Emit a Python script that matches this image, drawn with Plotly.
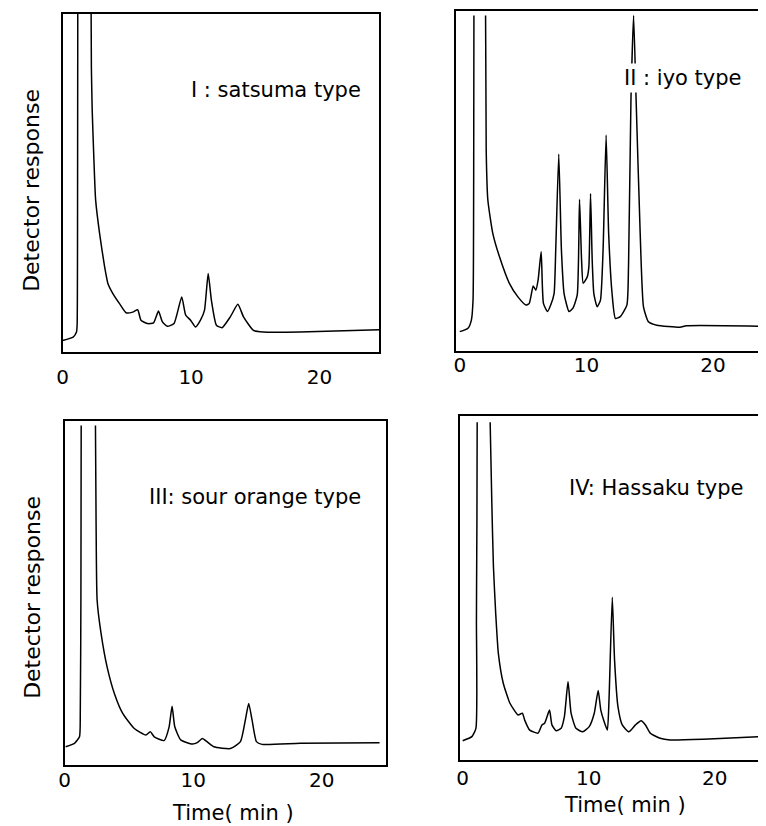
import plotly.graph_objects as go

# Chromatograms: time (min) and detector response (0-100 = panel height)
# None breaks the line where the solvent peak leaves the top of the panel
t_satsuma = [0, 0.82, 1.08, 1.13, 1.16, 1.18, None, 2.22, 2.24, 2.3, 2.37, 2.57, 2.88, 3.27, 3.53,
             3.91, 4.43, 4.94, 5.46, 5.84, 6.10, 6.62, 7.08, 7.46, 7.77, 8.16, 8.67, 9.27, 9.58,
             9.96, 10.35, 10.73, 11.04, 11.33, 11.58, 11.97, 12.41, 13.05, 13.64, 14.08, 14.85,
             15.62, 18.46, 24.63]
r_satsuma = [3.4, 4.4, 5.9, 8, 30, 100, None, 100, 84, 72, 64, 45, 35, 25.2, 20.2,
             17.3, 14.3, 11.6, 11.8, 12.5, 9.4, 8.4, 8.6, 12.1, 8.9, 7.6, 8.4, 16.3, 10.9,
             9.4, 7.4, 9.4, 12.3, 23.2, 15.3, 7.9, 7.2, 10.4, 14.1, 10.4, 6.4,
             5.9, 5.9, 6.6]

t_iyo = [0, 0.65, 0.92, 1.05, 1.1, 1.12, None, 2.04, 2.09, 2.22, 2.61, 3.14, 3.92, 4.58, 5.23,
         5.49, 5.80, 6.01, 6.19, 6.43, 6.61, 6.93, 7.19, 7.45, 7.58, 7.82, 8.03, 8.24, 8.63,
         8.94, 9.28, 9.46, 9.62, 9.75, 10.07, 10.2, 10.33, 10.46, 10.59, 10.85, 11.11, 11.32,
         11.56, 11.76, 12.03, 12.29, 12.68, 13.2, 13.33, 13.52, 13.73, 13.93, 14.25, 14.51,
         14.9, 15.56, 17.39, 17.9, 23.87]
r_iyo = [5.7, 6.7, 9.1, 15, 50, 98.7, None, 98.7, 59, 44.4, 34.6, 27.7, 19.9, 16.0, 13.5,
         14.0, 19.1, 17.9, 20.9, 29.2, 14.0, 11.6, 13.6, 16.9, 29.7, 57.9, 29.7, 16.9, 11.6,
         12.6, 16.5, 44.6, 26.8, 19.9, 21.8, 24.9, 46.3, 26.8, 16.9, 13.0, 14.9, 29.7,
         63.5, 34.6, 16.9, 9.6, 10.1, 13.5, 25.2, 73.7, 98.7, 73.7, 34.6, 13.0,
         8.6, 7.6, 7.0, 7.4, 7.3]

t_sour = [0.08, 0.77, 1.16, 1.22, 1.27, 1.29, None, 2.4, 2.45, 2.53, 2.84, 3.30, 3.87, 4.52,
          5.42, 6.32, 6.66, 6.97, 7.74, 8.13, 8.36, 8.57, 9.03, 9.94, 10.32, 10.71, 11.1, 11.61,
          12.9, 13.68, 14.06, 14.32, 14.58, 14.92, 15.35, 18.32, 24.5]
r_sour = [5.3, 6.3, 8.2, 15, 50, 98.7, None, 98.7, 70, 47.9, 38.2, 28.6, 20.8, 15.0,
          10.6, 8.7, 9.7, 8.2, 7.1, 11.1, 17.1, 11.1, 7.3, 6.1, 6.5, 7.7, 6.7, 5.3,
          4.8, 6.8, 13.1, 17.9, 13.1, 6.8, 6.0, 6.3, 6.5]

t_hassaku = [0, 0.73, 1.05, 1.09, 1.1, 1.13, 1.15, None, 2.18, 2.31, 2.44, 2.62, 2.83, 3.22, 3.75,
             4.40, 4.74, 4.92, 5.32, 5.98, 6.29, 6.50, 6.89, 7.08, 7.42, 7.81, 8.07, 8.36, 8.60,
             8.99, 9.52, 10.04, 10.44, 10.75, 10.96, 11.22, 11.48, 11.61, 11.87, 12.05, 12.32,
             12.66, 13.18, 13.71, 14.16, 14.50, 14.89, 15.67, 16.46, 19.08, 23.75]
r_hassaku = [5.6, 6.8, 9.2, 40, 49, 70, 98.2, None, 98.2, 75, 56.2, 42.6, 31.0, 22.3, 16.5,
             13.1, 13.6, 11.6, 8.7, 7.8, 10.2, 10.7, 14.5, 10.2, 8.5, 9.2, 12.6, 22.8, 13.6,
             9.2, 8.2, 9.7, 13.6, 20.2, 14.5, 11.2, 8.7, 17.4, 47.3, 29.1, 15.5,
             10.2, 8.2, 10.2, 11.4, 10.2, 7.8, 6.3, 5.8, 6.0, 6.8]

panel_labels = ["I : satsuma type", "II : iyo type", "III: sour orange type", "IV: Hassaku type"]
tick_vals = [0, 10, 20]
tick_text = ["0", "10", "20"]

# the page does not start the plot at its corner, so work in page pixels
# and take the offset off
OFFX, OFFY = 12, 8
W, H = 766 - OFFX, 826 - OFFY
FONT = "DejaVu Sans"


def px(x):
    return (x - OFFX) / W


def py(y):
    return 1 - (y - OFFY) / H


fig = go.Figure()

series = [(t_satsuma, r_satsuma), (t_iyo, r_iyo), (t_sour, r_sour), (t_hassaku, r_hassaku)]
for i, (t, r) in enumerate(series):
    n = "" if i == 0 else str(i + 1)
    fig.add_trace(go.Scatter(
        x=t, y=r, mode="lines", xaxis="x" + n, yaxis="y" + n,
        line=dict(color="black", width=1.5, shape="spline", smoothing=0.5),
        connectgaps=False, showlegend=False, hoverinfo="skip"
    ))

# panel boxes in page pixels: left, right, top, bottom, x range, full box, tick label standoff
boxes = [
    (61, 380, 14, 352, [0, 24.63], True, 6),
    (458, 766, 11, 351, [-0.26, 23.87], False, -5),
    (63, 387, 421, 765, [0, 25.0], True, -4),
    (462, 766, 416, 760, [-0.18, 23.75], False, -1),
]

layout = dict(
    width=W, height=H, margin=dict(l=0, r=0, t=0, b=0),
    plot_bgcolor="white", paper_bgcolor="white",
    font=dict(family=FONT, color="black"),
)
for i, (l, r, t, b, xr, full_box, standoff) in enumerate(boxes):
    n = "" if i == 0 else str(i + 1)
    layout["xaxis" + n] = dict(
        domain=[max(px(l), 0), min(px(r), 1)], range=xr, anchor="y" + n,
        showgrid=False, zeroline=False, showline=True, mirror=True,
        linecolor="black", linewidth=2,
        tickvals=tick_vals, ticktext=tick_text, ticks="",
        ticklabelstandoff=standoff, tickfont=dict(size=20, family=FONT),
    )
    layout["yaxis" + n] = dict(
        domain=[py(b), py(t)], range=[0, 100], anchor="x" + n,
        showgrid=False, zeroline=False, showline=True, mirror=full_box,
        linecolor="black", linewidth=2, showticklabels=False, ticks="",
    )
fig.update_layout(**layout)

# panel labels
label_pos = [(276, 90, None), (686, 78, "white"), (255, 497, None), (659, 488, None)]
for text, (x, y, bg) in zip(panel_labels, label_pos):
    fig.add_annotation(
        x=px(x), y=py(y), xref="paper", yref="paper", text=text, showarrow=False,
        font=dict(size=21, family=FONT), bgcolor=bg, borderpad=2,
        xanchor="center", yanchor="middle"
    )

# axis titles
for y in [190, 597]:
    fig.add_annotation(
        x=px(30), y=py(y), xref="paper", yref="paper", text="Detector response",
        textangle=-90, showarrow=False, font=dict(size=22, family=FONT),
        xanchor="center", yanchor="middle"
    )
for x, y in [(233, 813), (628, 805)]:
    fig.add_annotation(
        x=px(x), y=py(y), xref="paper", yref="paper", text="Time( min )",
        showarrow=False, font=dict(size=21, family=FONT),
        xanchor="center", yanchor="middle"
    )

fig.write_html("out.html")
